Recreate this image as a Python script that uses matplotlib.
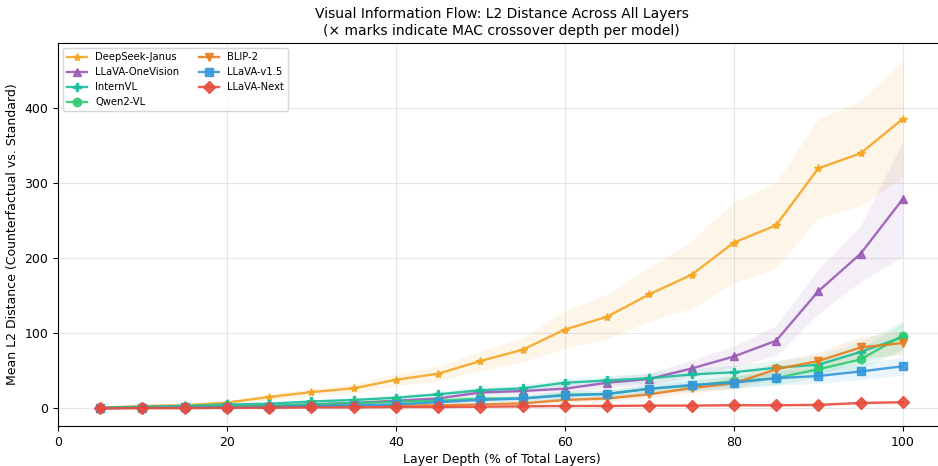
import numpy as np
import matplotlib
matplotlib.use('Agg')
import matplotlib.pyplot as plt

# layer depth in % of total layers
depth = [5, 10, 15, 20, 25, 30, 35, 40, 45, 50, 55, 60, 65, 70, 75, 80, 85, 90, 95, 100]

models = ['DeepSeek-Janus', 'LLaVA-OneVision', 'InternVL', 'Qwen2-VL', 'BLIP-2', 'LLaVA-v1.5', 'LLaVA-Next']

janus = [0.5, 3, 4, 7.5, 15, 21.5, 26.5, 38, 46, 63, 78, 105, 122, 152, 178, 221, 244, 320, 340, 386]
onevision = [0, 1, 1.5, 2, 3, 5, 7, 10, 13, 21, 23, 26, 34, 39, 53, 69, 90, 156, 206, 279]
internvl = [0.5, 2, 3, 5, 6, 9, 11, 14, 18.5, 24, 26.5, 34, 37, 40, 45, 48, 54, 58, 75, 95]
qwen2 = [0, 1, 1.5, 2.5, 3.5, 5, 7, 8.5, 10, 13, 13, 18, 19, 26, 30, 36, 40, 52, 65, 97]
blip2 = [0, 0.5, 1, 1.5, 2, 2.5, 3, 3.5, 4, 5, 6.5, 11, 13, 18.5, 27, 33, 52, 63, 81, 87]
llava15 = [0, 0.5, 1, 1.5, 2, 3, 4, 5, 8, 11, 13, 17, 19, 26, 31, 34, 40, 43, 49, 56]
llavanext = [0, 0, 0, 0.5, 0.5, 1, 1, 1.5, 1.5, 2, 2.5, 3, 3, 3.5, 3.5, 4, 4, 4.5, 7, 8]

# spread across samples (shaded band)
janus_std = [1, 1, 1.5, 2, 4, 5, 6, 8, 10, 13, 16, 25, 30, 36, 45, 54, 57, 66, 70, 78]
onevision_std = [0.5, 0.5, 0.5, 0.8, 1, 1.5, 2, 2.5, 3, 4, 5, 6, 7, 8, 11, 14, 20, 30, 37, 77]
internvl_std = [0.5, 1, 1, 1.5, 2, 2.5, 3, 3.5, 4, 5, 5, 6, 6.5, 7, 8, 9, 10, 12, 14, 20]
qwen2_std = [0.5, 0.5, 1, 1, 1.5, 2, 2.5, 3, 3, 4, 4, 5, 5, 6, 7, 8, 9, 11, 13, 18]
blip2_std = [0.3, 0.3, 0.5, 0.5, 0.8, 1, 1, 1.5, 1.5, 2, 2.5, 3, 4, 5, 6, 8, 10, 12, 14, 16]
llava15_std = [0.3, 0.5, 0.5, 0.8, 1, 1.5, 2, 2, 3, 4, 4, 5, 5, 6, 7, 8, 9, 10, 11, 12]
llavanext_std = [0.3, 0.3, 0.3, 0.3, 0.5, 0.5, 0.5, 0.5, 0.5, 0.8, 0.8, 1, 1, 1, 1, 1.2, 1.2, 1.5, 2, 2]

values = [janus, onevision, internvl, qwen2, blip2, llava15, llavanext]
stds = [janus_std, onevision_std, internvl_std, qwen2_std, blip2_std, llava15_std, llavanext_std]
colors = ['#f5a623', '#9b59b6', '#1abc9c', '#2ecc71', '#e67e22', '#3498db', '#e74c3c']
markers = ['*', '^', 'P', 'o', 'v', 's', 'D']

fig = plt.figure(figsize=(9.38, 4.66), dpi=100)
ax = fig.add_axes([58 / 938, 40 / 466, 887 / 938, 383 / 466])

x = np.array(depth)
for name, v, s, c, m in zip(models, values, stds, colors, markers):
    v = np.array(v)
    s = np.array(s)
    ax.fill_between(x, v - s, v + s, color=c, alpha=0.1, linewidth=0)
    ax.plot(x, v, color=c, marker=m, markersize=6, linewidth=1.7, alpha=0.9, label=name)

ax.set_xlim(0, 105)
ax.set_xlabel('Layer Depth (% of Total Layers)', fontsize=9, labelpad=3)
ax.set_ylabel('Mean L2 Distance (Counterfactual vs. Standard)', fontsize=9)
ax.set_title('Visual Information Flow: L2 Distance Across All Layers\n(\u00d7 marks indicate MAC crossover depth per model)', fontsize=10)
ax.tick_params(labelsize=9)
ax.grid(True, alpha=0.3)
ax.legend(loc='upper left', ncol=2, fontsize=7.2)

fig.savefig('out.png', dpi=100)
